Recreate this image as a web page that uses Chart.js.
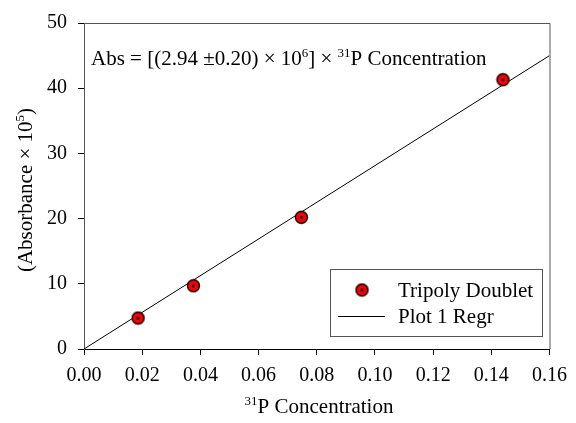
<!DOCTYPE html>
<html>
<head>
<meta charset="utf-8">
<script src="https://cdn.jsdelivr.net/npm/chart.js@4.4.1/dist/chart.umd.min.js"></script>
<style>
  body { margin: 0; background: #fff; }
  canvas { display: block; }
</style>
</head>
<body>
<canvas id="calibChart" width="576" height="423"></canvas>
<script>
const concX = [0.0186, 0.0376, 0.0747, 0.1440];
const absY = [4.75, 9.7, 20.2, 41.3];

// regression line end points
const regrX = [0, 0.16];
const regrY = [0, 45.0];

const xTicks = [0, 0.02, 0.04, 0.06, 0.08, 0.10, 0.12, 0.14, 0.16];
const yTicks = [0, 10, 20, 30, 40, 50];

const serif = "'Liberation Serif', 'Times New Roman', serif";

// red dot with black rim and black centre
function makeMarker() {
  const c = document.createElement('canvas');
  c.width = 15; c.height = 15;
  const g = c.getContext('2d');
  g.beginPath();
  g.arc(7.5, 7.5, 6, 0, Math.PI * 2);
  g.fillStyle = '#ff0000';
  g.fill();
  g.lineWidth = 1.4;
  g.strokeStyle = '#000';
  g.stroke();
  g.beginPath();
  g.arc(7.5, 7.5, 1.6, 0, Math.PI * 2);
  g.fillStyle = '#000';
  g.fill();
  return c;
}
const marker = makeMarker();

// draw a run of [text, isSuperscript] pieces
function drawRich(ctx, parts, x, y, size) {
  let cx = x;
  parts.forEach(([txt, sup]) => {
    const fs = sup ? Math.round(size * 0.62) : size;
    ctx.font = fs + 'px ' + serif;
    ctx.fillText(txt, cx, sup ? y - size * 0.38 : y);
    cx += ctx.measureText(txt).width;
  });
  return cx - x;
}
function richWidth(ctx, parts, size) {
  let w = 0;
  parts.forEach(([txt, sup]) => {
    const fs = sup ? Math.round(size * 0.62) : size;
    ctx.font = fs + 'px ' + serif;
    w += ctx.measureText(txt).width;
  });
  return w;
}

const extras = {
  id: 'extras',
  afterDraw(chart) {
    const ctx = chart.ctx;
    const a = chart.chartArea;
    ctx.save();

    // frame top and right
    ctx.strokeStyle = '#555';
    ctx.lineWidth = 1;
    ctx.beginPath();
    ctx.moveTo(a.left, a.top + 0.5);
    ctx.lineTo(a.right + 0.5, a.top + 0.5);
    ctx.lineTo(a.right + 0.5, a.bottom);
    ctx.stroke();

    ctx.fillStyle = '#000';
    ctx.textBaseline = 'alphabetic';
    ctx.textAlign = 'left';

    // equation
    drawRich(ctx, [
      ['Abs = [(2.94 \u00b10.20) \u00d7 10', false], ['6', true],
      ['] \u00d7 ', false], ['31', true], ['P Concentration', false]
    ], 91, 65, 21);

    // x axis title
    const xt = [['31', true], ['P Concentration', false]];
    const xw = richWidth(ctx, xt, 21);
    drawRich(ctx, xt, 319 - xw / 2, 413, 21);

    // y axis title
    const yt = [['(Absorbance \u00d7 10', false], ['5', true], [')', false]];
    const yw = richWidth(ctx, yt, 21);
    ctx.save();
    ctx.translate(32, 190);
    ctx.rotate(-Math.PI / 2);
    drawRich(ctx, yt, -yw / 2, 0, 21);
    ctx.restore();

    // legend box
    ctx.strokeStyle = '#555';
    ctx.strokeRect(330.5, 269.5, 212, 67);
    ctx.drawImage(marker, 362 - 7.5, 290 - 7.5);
    ctx.strokeStyle = '#000';
    ctx.beginPath();
    ctx.moveTo(338, 316.5);
    ctx.lineTo(385, 316.5);
    ctx.stroke();
    ctx.font = '21px ' + serif;
    ctx.textBaseline = 'middle';
    ctx.fillText(chart.data.datasets[0].label, 398, 291);
    ctx.fillText(chart.data.datasets[1].label, 398, 317);

    ctx.restore();
  }
};

const ctx = document.getElementById('calibChart').getContext('2d');
new Chart(ctx, {
  type: 'scatter',
  data: {
    datasets: [
      {
        label: 'Tripoly Doublet',
        data: concX.map((x, i) => ({ x: x, y: absY[i] })),
        pointStyle: marker,
        pointRadius: 6,
        showLine: false,
        order: 0
      },
      {
        label: 'Plot 1 Regr',
        data: regrX.map((x, i) => ({ x: x, y: regrY[i] })),
        showLine: true,
        borderColor: '#000',
        borderWidth: 1,
        pointRadius: 0,
        order: 1
      }
    ]
  },
  options: {
    responsive: false,
    animation: false,
    layout: { padding: { left: 0, right: 22, top: 20, bottom: 0 } },
    plugins: { legend: { display: false }, tooltip: { enabled: false } },
    scales: {
      x: {
        type: 'linear',
        min: 0, max: 0.16,
        afterBuildTicks: s => { s.ticks = xTicks.map(v => ({ value: v })); },
        afterFit: s => { s.height = 74; },
        ticks: {
          color: '#000',
          padding: 9,
          font: { family: serif, size: 20 },
          callback: v => v.toFixed(2)
        },
        grid: { drawOnChartArea: false, drawTicks: true, tickLength: 6, color: '#000', tickColor: '#000' },
        border: { display: true, color: '#000', width: 1 }
      },
      y: {
        type: 'linear',
        min: 0, max: 50,
        afterBuildTicks: s => { s.ticks = yTicks.map(v => ({ value: v })); },
        afterFit: s => { s.width = 84; },
        ticks: {
          color: '#000',
          padding: 11,
          font: { family: serif, size: 20 }
        },
        grid: { drawOnChartArea: false, drawTicks: true, tickLength: 6, color: '#555', tickColor: '#000' },
        border: { display: true, color: '#555', width: 1 }
      }
    }
  },
  plugins: [extras]
});
</script>
</body>
</html>
